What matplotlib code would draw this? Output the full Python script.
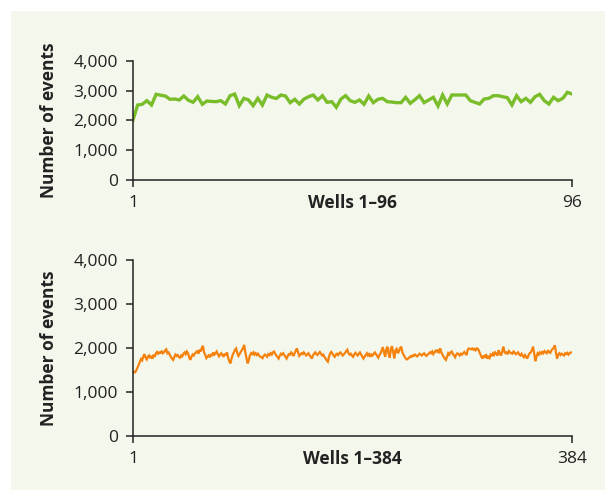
import matplotlib.pyplot as plt

# Events per well
wells_96 = [2017, 2520, 2545, 2666, 2520, 2880, 2850, 2823, 2712, 2723, 2690, 2823,
            2680, 2611, 2800, 2545, 2655, 2640, 2633, 2666, 2555, 2834, 2890, 2498,
            2745, 2690, 2498, 2745, 2520, 2857, 2780, 2740, 2857, 2823, 2600, 2712,
            2555, 2720, 2800, 2857, 2690, 2834, 2611, 2633, 2443, 2723, 2834, 2666,
            2611, 2690, 2545, 2823, 2600, 2712, 2745, 2633, 2620, 2600, 2600, 2779,
            2577, 2700, 2834, 2600, 2690, 2779, 2487, 2857, 2555, 2857, 2857, 2857,
            2857, 2666, 2610, 2555, 2723, 2745, 2834, 2834, 2800, 2767, 2520, 2834,
            2633, 2745, 2611, 2800, 2880, 2666, 2555, 2779, 2666, 2745, 2948, 2890]

wells_384 = [
    1430, 1460, 1450, 1500, 1560, 1620, 1690, 1750, 1720, 1810, 1860, 1780, 1740, 1800, 1830, 1770,
    1820, 1760, 1850, 1800, 1880, 1910, 1870, 1900, 1890, 1920, 1880, 1900, 1950, 1970, 1880, 1900,
    1850, 1800, 1760, 1730, 1790, 1850, 1820, 1840, 1800, 1780, 1830, 1810, 1870, 1900, 1860, 1920,
    1880, 1790, 1730, 1800, 1850, 1830, 1880, 1900, 1940, 1870, 1960, 1920, 2000, 2050, 1900, 1850,
    1770, 1800, 1830, 1790, 1860, 1820, 1900, 1850, 1880, 1920, 1860, 1810, 1850, 1880, 1840, 1800,
    1870, 1830, 1900, 1780, 1700, 1650, 1760, 1850, 1900, 1960, 1990, 1880, 1820, 1860, 1910, 1950,
    2000, 2070, 1900, 1780, 1650, 1720, 1830, 1880, 1860, 1900, 1850, 1880, 1840, 1870, 1830, 1800,
    1790, 1770, 1820, 1850, 1830, 1800, 1860, 1840, 1880, 1850, 1900, 1920, 1870, 1830, 1800, 1760,
    1820, 1870, 1850, 1880, 1840, 1800, 1760, 1820, 1860, 1850, 1900, 1870, 1820, 1880, 1940, 1990,
    1900, 1820, 1850, 1880, 1860, 1900, 1870, 1830, 1850, 1880, 1840, 1800, 1760, 1830, 1870, 1900,
    1860, 1840, 1880, 1910, 1870, 1830, 1850, 1800, 1760, 1720, 1690, 1800, 1880, 1910, 1870, 1830,
    1800, 1850, 1870, 1840, 1880, 1900, 1860, 1830, 1860, 1890, 1930, 1960, 1880, 1850, 1870, 1830,
    1800, 1850, 1890, 1860, 1830, 1870, 1900, 1850, 1810, 1760, 1800, 1840, 1880, 1830, 1860, 1800,
    1850, 1830, 1870, 1900, 1860, 1820, 1780, 1840, 1880, 1950, 2020, 1900, 1800, 1970, 2030, 1870,
    1780, 1990, 2040, 1900, 1760, 1950, 1980, 1880, 1920, 2000, 2030, 1900, 1850, 1800, 1760, 1740,
    1760, 1780, 1810, 1800, 1830, 1820, 1850, 1830, 1810, 1840, 1870, 1850, 1830, 1860, 1880, 1840,
    1820, 1850, 1870, 1900, 1880, 1920, 1860, 1900, 1940, 1920, 1960, 1880, 1990, 1900, 1850, 1800,
    1760, 1730, 1800, 1880, 1850, 1900, 1920, 1870, 1830, 1790, 1850, 1880, 1860, 1830, 1870, 1850,
    1880, 1910, 1870, 1840, 1960, 1990, 1980, 1970, 1990, 1960, 1980, 1950, 1990, 1980, 1920, 1860,
    1800, 1760, 1830, 1780, 1860, 1760, 1800, 1770, 1850, 1830, 1880, 1840, 1900, 1870, 1830, 1950,
    1880, 1830, 1900, 2030, 1920, 1880, 1900, 1860, 1930, 1900, 1880, 1870, 1920, 1900, 1860, 1880,
    1900, 1850, 1830, 1870, 1820, 1790, 1840, 1800, 1760, 1830, 1880, 1900, 1950, 2030, 1880, 1700,
    1800, 1880, 1850, 1900, 1870, 1910, 1880, 1930, 1900, 1880, 1950, 1910, 1890, 1940, 1980, 2000,
    2060, 1900, 1760, 1850, 1880, 1840, 1870, 1850, 1830, 1880, 1860, 1890, 1850, 1880, 1900, 1900,
]

y_ticks = [0, 1000, 2000, 3000, 4000]
y_tick_labels = ['0', '1,000', '2,000', '3,000', '4,000']

plt.rcParams['font.family'] = ['Open Sans', 'DejaVu Sans']

fig = plt.figure(figsize=(6.05, 4.9), dpi=100)
fig.patch.set_facecolor('white')

# pale panel behind both charts (an empty axes kept underneath)
bg = fig.add_axes([11 / 605, 0, 1 - 11 / 605, 1 - 11 / 490], zorder=-1)
bg.set_facecolor('#f4f7ec')
bg.set_xticks([])
bg.set_yticks([])
for s in bg.spines.values():
    s.set_visible(False)


def draw_panel(rect, values, color, lw, label):
    ax = fig.add_axes(rect)
    ax.patch.set_alpha(0)
    n = len(values)
    ax.plot(range(1, n + 1), values, color=color, linewidth=lw, solid_joinstyle='miter')
    ax.set_xlim(1, n)
    ax.set_ylim(0, 4000)
    ax.set_yticks(y_ticks)
    ax.set_yticklabels(y_tick_labels)
    ax.set_xticks([1, n])
    ax.set_xticklabels(['1', str(n)])
    for side in ['top', 'right']:
        ax.spines[side].set_visible(False)
    for side in ['left', 'bottom']:
        ax.spines[side].set_color('#222222')
        ax.spines[side].set_linewidth(1.1)
    ax.tick_params(axis='both', direction='out', length=5, width=1.1, color='#222222',
                   labelsize=12.5, labelcolor='#222222', pad=6)
    ax.set_ylabel('Number of events', fontsize=12.5, fontweight='bold', color='#222222', labelpad=11)
    ax.annotate(label, xy=(0.5, 0), xycoords='axes fraction', xytext=(0, -10),
                textcoords='offset points', ha='center', va='top',
                fontsize=12.5, fontweight='bold', color='#222222')
    return ax


draw_panel([133 / 605, 1 - 180 / 490, 439 / 605, 119 / 490], wells_96, '#7abd2a', 2.4, 'Wells 1–96')
draw_panel([133 / 605, 1 - 436 / 490, 439 / 605, 176 / 490], wells_384, '#f5820d', 1.6, 'Wells 1–384')

fig.savefig('out.png', dpi=100)
